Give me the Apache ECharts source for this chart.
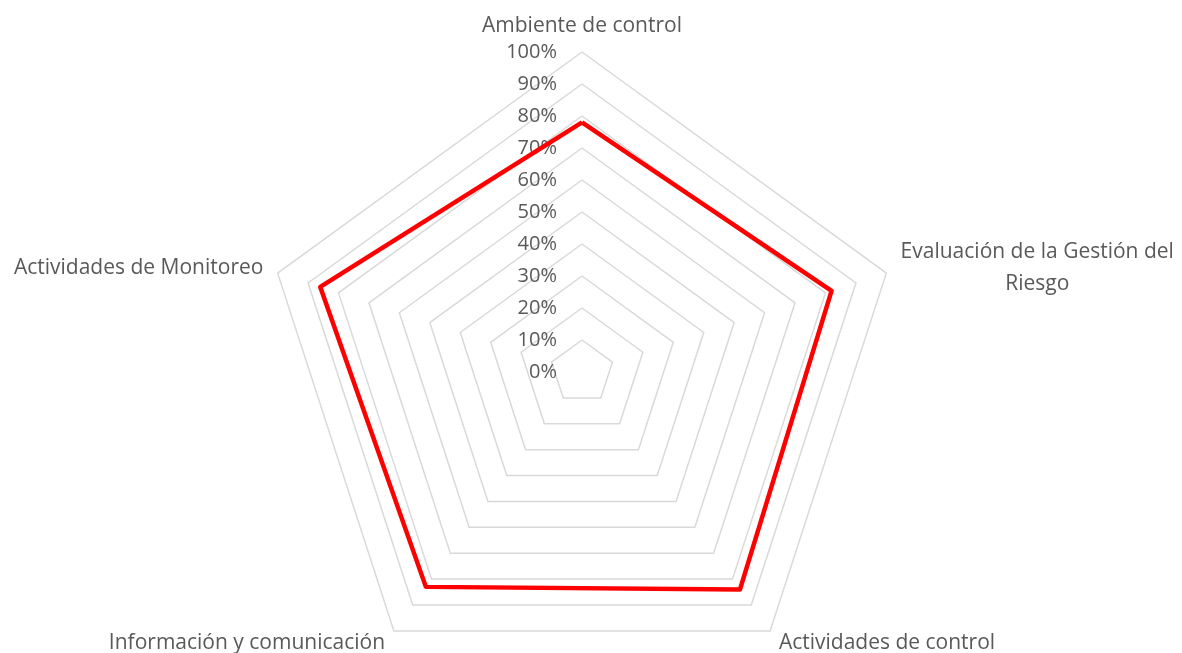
<!DOCTYPE html>
<html>
<head>
<meta charset="utf-8">
<title>Radar</title>
<script src="https://cdn.jsdelivr.net/npm/echarts@6/dist/echarts.min.js"></script>
<style>
    html, body { margin: 0; padding: 0; background: #fff; }
    #main { width: 1182px; height: 653px; }
</style>
</head>
<body>
<div id="main"></div>
<script>
    // ejes en el orden en que los dibuja echarts (antihorario desde arriba)
    var categories = [
        'Ambiente de control',
        'Actividades de Monitoreo',
        'Información y comunicación',
        'Actividades de control',
        'Evaluación de la Gestión del Riesgo'
    ];
    var values = [78, 86, 83, 84, 82];
    var tickLabels = ['0%', '10%', '20%', '30%', '40%', '50%', '60%', '70%', '80%', '90%', '100%'];

    var gray = '#595959';
    var font = '"Open Sans", "Noto Sans", sans-serif';

    var indicator = categories.map(function (name, i) {
        var ind = {name: name, min: 0, max: 100};
        if (i == 0) {
            ind.axisLabel = {
                show: true,
                color: gray,
                fontSize: 20,
                fontFamily: font,
                margin: 25,
                formatter: function (v) {
                    return tickLabels[Math.round(v / 10)];
                }
            };
        }
        return ind;
    });

    var chart = echarts.init(document.getElementById('main'));
    chart.setOption({
        animation: false,
        radar: {
            center: [582, 372],
            radius: 320,
            startAngle: 90,
            splitNumber: 10,
            indicator: indicator,
            nameGap: 15,
            axisName: {
                color: gray,
                fontSize: 21,
                fontFamily: font,
                formatter: function (name) {
                    if (name.indexOf('Riesgo') > 0) {//dos líneas centradas
                        return '{c|Evaluación de la Gestión del}\n{c|Riesgo}';
                    }
                    return name;
                },
                rich: {
                    c: {align: 'center', lineHeight: 32, color: gray, fontSize: 21, fontFamily: font}
                }
            },
            axisLine: {show: false},
            axisTick: {show: false},
            axisLabel: {show: false},
            splitArea: {show: false},
            splitLine: {lineStyle: {color: '#d9d9d9', width: 1.5}}
        },
        series: [{
            type: 'radar',
            symbol: 'none',
            lineStyle: {color: '#ff0000', width: 4.5},
            data: [{value: values, name: 'Resultado'}]
        }]
    });
</script>
</body>
</html>
